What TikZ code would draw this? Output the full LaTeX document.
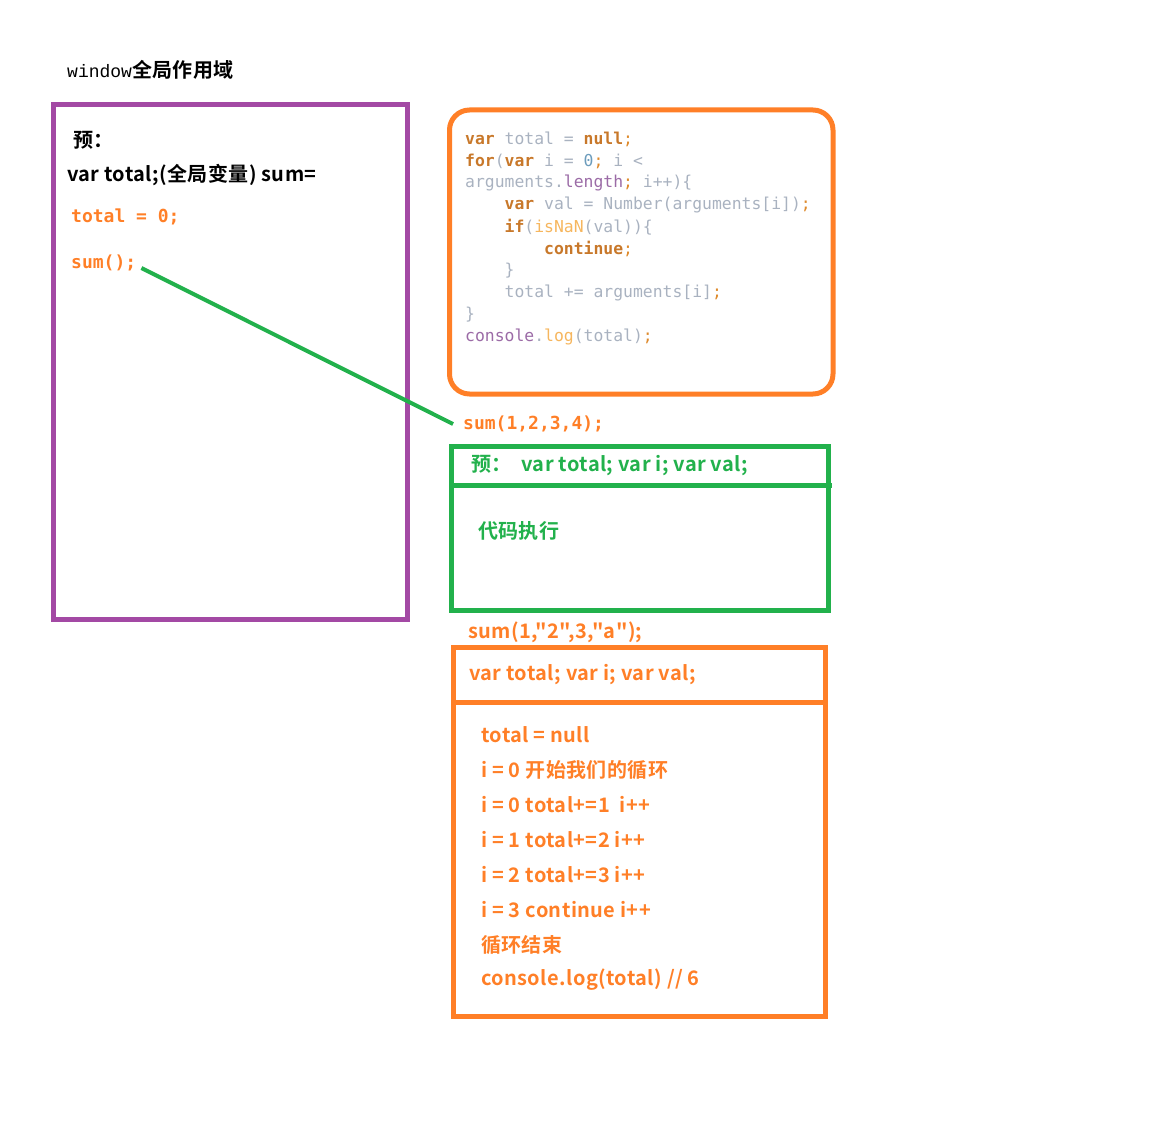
\documentclass[tikz,border=0pt]{standalone}
\usepackage{fontspec}
\newfontfamily\yh{Noto Sans CJK SC}[BoldFont={Noto Sans CJK SC Bold}, LetterSpace=2]
\newfontfamily\codefont{DejaVu Sans Mono}
\newfontfamily\winfont{Liberation Mono}
\definecolor{paintorange}{HTML}{FF7F27}
\definecolor{paintgreen}{HTML}{22B14C}
\definecolor{paintpurple}{HTML}{A349A4}
\definecolor{kw}{HTML}{C8782A}
\definecolor{idg}{HTML}{A9B2C0}
\definecolor{numb}{HTML}{6C9CBC}
\definecolor{prop}{HTML}{9B6BA6}
\definecolor{fn}{HTML}{F6B65E}
\definecolor{semi}{HTML}{DE8A2C}
\newcommand{\ckw}[1]{\textcolor{kw}{\bfseries #1}}
\newcommand{\cid}[1]{\textcolor{idg}{#1}}
\newcommand{\cnum}[1]{\textcolor{numb}{#1}}
\newcommand{\cprop}[1]{\textcolor{prop}{#1}}
\newcommand{\cfn}[1]{\textcolor{fn}{#1}}
\newcommand{\csemi}[1]{\textcolor{semi}{#1}}
\begin{document}
\begin{tikzpicture}[x=1pt,y=-1pt,
  frame/.style={draw, line width=5pt, anchor=north west, inner sep=0pt, outer sep=0pt},
  rule/.style={line width=5pt},
  txt/.style={anchor=west, inner sep=0pt, font=\fontsize{20}{22}\yh\bfseries},
  code/.style={anchor=west, inner sep=0pt, font=\fontsize{16.4}{20}\codefont},
  mono/.style={anchor=west, inner sep=0pt, font=\fontsize{18}{20}\codefont\bfseries, text=paintorange},
  outtxt/.style={txt, text=paintorange},
  link/.style={draw=paintgreen, line width=4pt}]
\useasboundingbox (0,0) rectangle (1152,1137);

% heading
\node[anchor=west, inner sep=0pt] (head) at (67,70)
  {\fontsize{18}{20}\winfont window\yh\fontsize{20}{22}\selectfont\bfseries 全局作用域};

% global scope
\node[frame, draw=paintpurple, minimum width=354pt, minimum height=514.5pt] (global) at (53.5,104.5) {};
\node[txt] (pre) at (73,140) {预：};
\node[txt] (decl) at (67,175) {var total;(全局变量) sum=};
\node[mono] (assign) at (71,217) {total = 0;};
\node[mono] (sumcall) at (71,263) {sum();};

% function body
\node[frame, draw=paintorange, rounded corners=20pt, minimum width=383.5pt, minimum height=284pt] (body) at (449.5,110) {};
\node[code] (c1) at (465,139) {\ckw{var} \cid{total = }\ckw{null}\csemi{;}};
\node[code] (c2) at (465,161) {\ckw{for}\cid{(}\ckw{var} \cid{i = }\cnum{0}\csemi{;} \cid{i <}};
\node[code] (c3) at (465,183) {\cid{arguments.}\cprop{length}\csemi{;} \cid{i++)\{}};
\node[code] (c4) at (465,205) {\hspace*{39.5pt}\ckw{var} \cid{val = Number(arguments[i])}\csemi{;}};
\node[code] (c5) at (465,227) {\hspace*{39.5pt}\ckw{if}\cid{(}\cfn{isNaN}\cid{(val))\{}};
\node[code] (c6) at (465,249) {\hspace*{79pt}\ckw{continue}\csemi{;}};
\node[code] (c7) at (465,271) {\hspace*{39.5pt}\cid{\}}};
\node[code] (c8) at (465,293) {\hspace*{39.5pt}\cid{total += arguments[i]}\csemi{;}};
\node[code] (c9) at (465,315) {\cid{\}}};
\node[code] (c10) at (465,337) {\cprop{console}\cid{.}\cfn{log}\cid{(total)}\csemi{;}};

% first call
\node[mono] (call1) at (463,424) {sum(1,2,3,4);};
\node[frame, draw=paintgreen, minimum width=377pt, minimum height=163.5pt] (run1) at (451.5,446.5) {};
\draw[rule, paintgreen] (run1.west |- 0,485.5) -- (832,485.5);
\node[txt, text=paintgreen] (pre1) at (471,466) {预：\ \ var total; var i; var val;};
\node[txt, text=paintgreen] (exec1) at (478,531) {代码执行};

% second call
\node[outtxt] (call2) at (468,632) {sum(1,"2",3,"a");};
\node[frame, draw=paintorange, minimum width=371.5pt, minimum height=369pt] (run2) at (453.5,647.5) {};
\draw[rule, paintorange] (run2.west |- 0,702.5) -- (run2.east |- 0,702.5);
\node[outtxt] (pre2) at (469,675) {var total; var i; var val;};
\node[outtxt] (s1) at (481,735) {total = null};
\node[outtxt] (s2) at (481,770) {i = 0 开始我们的循环};
\node[outtxt] (s3) at (481,805) {i = 0 total+=1\ \ i++};
\node[outtxt] (s4) at (481,840) {i = 1 total+=2 i++};
\node[outtxt] (s5) at (481,875) {i = 2 total+=3 i++};
\node[outtxt] (s6) at (481,910) {i = 3 continue i++};
\node[outtxt] (s7) at (481,945) {循环结束};
\node[outtxt] (s8) at (481,980) {console.log(total) // 6};

% call link
\draw[link] ([xshift=5pt,yshift=-5pt]sumcall.east) -- ([xshift=-10pt]call1.west);
\end{tikzpicture}
\end{document}
